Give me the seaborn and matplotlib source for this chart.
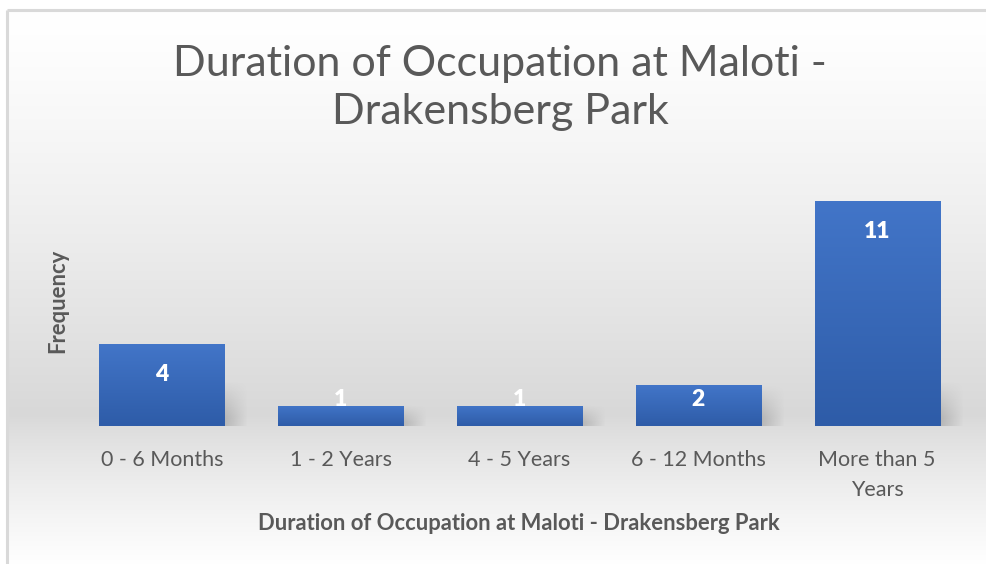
import numpy as np
import pandas as pd
import matplotlib
matplotlib.use("Agg")
import matplotlib.pyplot as plt
import seaborn as sns

categories = ["0 - 6 Months", "1 - 2 Years", "4 - 5 Years", "6 - 12 Months", "More than 5\nYears"]
frequency = [4, 1, 1, 2, 11]
title = "Duration of Occupation at Maloti -\nDrakensberg Park"
x_label = "Duration of Occupation at Maloti - Drakensberg Park"
y_label = "Frequency"

df = pd.DataFrame({"category": categories, "frequency": frequency})

sns.set_theme(style="white")
plt.rcParams["font.family"] = ["Lato", "DejaVu Sans"]

W, H = 987, 564
fig = plt.figure(figsize=(W / 100, H / 100), dpi=100)
fig.patch.set_facecolor("white")

# background gradient (chart area)
bg = fig.add_axes([0, 0, 1, 1], zorder=-10)
ys = np.arange(H)
top_y, mid_y, bot_y = 10, 415, 564
vals = np.where(ys < mid_y,
                255 - (255 - 216) * np.clip((ys - top_y) / (mid_y - top_y), 0, 1) ** 1.3,
                216 + (255 - 216) * np.clip((ys - mid_y) / (bot_y - mid_y), 0, 1) ** 0.8)
grad = np.repeat((vals / 255.0)[:, None], 2, axis=1)
rgb = np.dstack([grad, grad, grad])
bg.imshow(rgb, aspect="auto", extent=[0, W, H, 0], interpolation="bilinear")
bg.set_xlim(0, W)
bg.set_ylim(H, 0)
bg.axis("off")
bg.fill_between([0, 6], 0, H, color="white")
bg.fill_between([0, W], 0, 9, color="white")
bg.plot([7, 7], [10, H], color="#d9d9d9", lw=2.2, solid_capstyle="butt")
bg.plot([7, W], [10, 10], color="#d9d9d9", lw=2.2, solid_capstyle="butt")

ax = fig.add_axes([72.5 / W, 1 - 426 / H, (966.5 - 72.5) / W, 12 * 20.45 / H])
ax.set_facecolor("none")
sns.barplot(data=df, x="category", y="frequency", color="#4472C4", width=0.70, ax=ax, zorder=3)
ax.set_ylim(0, 12)
ax.set_xlim(-0.5, len(categories) - 0.5)

# gradient fill & soft shadow for bars
bar_grad = np.linspace(0, 1, 64)[:, None]
top_c = np.array([66, 117, 200]) / 255.0
bot_c = np.array([46, 92, 168]) / 255.0
bar_img = top_c[None, None, :] * (1 - bar_grad[:, :, None]) + bot_c[None, None, :] * bar_grad[:, :, None]
for p in ax.patches:
    x0, w, h = p.get_x(), p.get_width(), p.get_height()
    sh = np.zeros((40, 40, 4))
    yy, xx = np.mgrid[0:40, 0:40] / 39.0
    alpha = np.clip(1 - xx, 0, 1) * np.clip(yy * 1.2, 0, 1) * 0.35
    sh[..., :3] = 0.45
    sh[..., 3] = alpha
    sh_h = min(h, 2.2)
    ax.imshow(sh, extent=[x0 + w, x0 + w + 0.13, 0, sh_h], aspect="auto", zorder=2,
              interpolation="bilinear")
    im = ax.imshow(bar_img, extent=[x0, x0 + w, 0, h], aspect="auto", zorder=4,
                   interpolation="bilinear")
    im.set_clip_path(p)
    p.set_edgecolor("none")
ax.set_xlim(-0.5, len(categories) - 0.5)
ax.set_ylim(0, 12)

for i, v in enumerate(frequency):
    ax.text(i, max(v - 1.5, 1.32), str(v), ha="center", va="center", color="white",
            fontsize=16.5, fontweight="heavy", zorder=6)

for s in ax.spines.values():
    s.set_visible(False)
ax.set_yticks([])
ax.tick_params(axis="x", length=0, pad=17, labelsize=15.5, labelcolor="#595959")
for lbl in ax.get_xticklabels():
    lbl.set_linespacing(1.65)
ax.set_xlabel("")
ax.set_ylabel("")

fig.text(519 / W, 1 - 523 / H, x_label, ha="center", va="center", fontsize=15.8,
         fontweight="bold", color="#595959")
fig.text(58 / W, 1 - 301 / H, y_label, ha="center", va="center", rotation=90,
         fontsize=15.8, fontweight="bold", color="#595959")
fig.text(500 / W, 1 - 88 / H, title, ha="center", va="center", fontsize=31,
         color="#595959", linespacing=1.35)

fig.savefig("out.png", dpi=100)
